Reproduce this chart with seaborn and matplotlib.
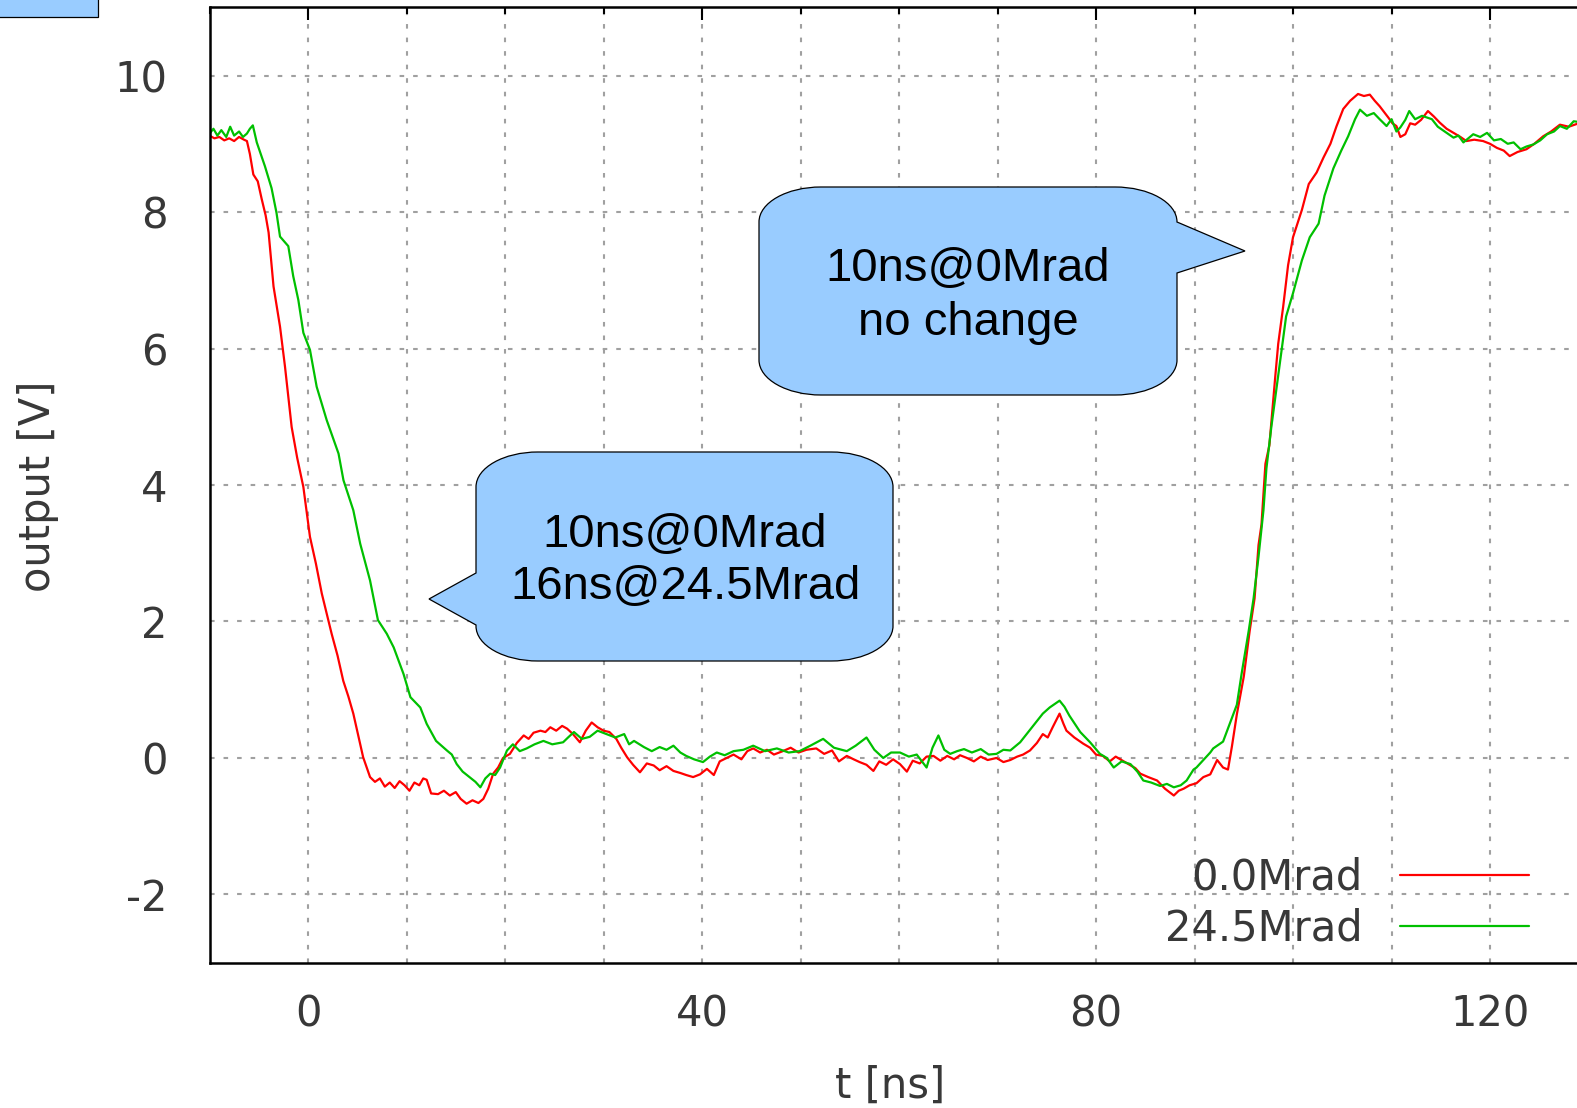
import numpy as np
import pandas as pd
import matplotlib
matplotlib.use("Agg")
import matplotlib.pyplot as plt
import seaborn as sns
from matplotlib.path import Path
from matplotlib.patches import PathPatch, Rectangle

# ---------------- data ----------------
t_red = [-10, -9.5, -9, -8.5, -8, -7.5, -7, -6.5, -6.2, -5.9, -5.55, -5.1, -4.7, -4.3, -4.0, -3.5,
         -2.84, -2.34, -1.66, -1.1, -0.47, 0.2, 0.8, 1.4, 2.4, 3.0, 3.58, 4.1, 4.6, 5.1, 5.6, 6.3,
         6.8, 7.3, 7.8, 8.3, 8.8, 9.3, 9.8, 10.3, 10.8, 11.3, 11.7, 12.05, 12.5, 13.2, 13.8, 14.4,
         15.0, 15.5, 16.1, 16.7, 17.3, 17.8, 18.3, 18.8, 19.3, 19.8, 20.5, 21.2, 21.9, 22.4, 22.9,
         23.6, 24.1, 24.6, 25.2, 25.8, 26.3, 26.9, 27.6, 28.2, 28.8, 29.4, 30.0, 30.6, 31.3, 31.8,
         32.4, 33.0, 33.7, 34.4, 35.1, 35.7, 36.4, 37.1, 37.8, 38.4, 39.1, 39.8, 40.5, 41.2, 41.8,
         42.5, 43.2, 44.0, 44.6, 45.2, 45.9, 46.6, 47.3, 48.2, 49.0, 49.8, 50.6, 51.6, 52.4, 53.2,
         53.9, 54.7, 55.4, 56.0, 56.7, 57.4, 58.0, 58.7, 59.4, 60.1, 60.8, 61.4, 62.1, 62.8, 63.5,
         64.2, 64.9, 65.6, 66.2, 66.9, 67.6, 68.3, 69.0, 69.9, 70.6, 71.3, 72.0, 72.6, 73.3, 74.0,
         74.6, 75.1, 75.6, 76.3, 76.7, 77.0, 77.8, 78.7, 79.4, 80.0, 80.7, 81.4, 82.0, 82.7, 83.4,
         84.0, 84.5, 85.3, 86.2, 87.0, 87.9, 88.4, 88.9, 89.5, 90.2, 90.9, 91.6, 92.3, 92.9, 93.4,
         93.8, 94.3, 95.0, 95.6, 96.1, 96.5, 96.8, 97.2, 97.6, 98.2, 98.5, 99.0, 99.5, 100.0,
         100.9, 101.6, 102.4, 103.1, 103.8, 104.4, 105.1, 105.8, 106.6, 107.2, 107.8, 108.3,
         108.8, 109.7, 110.1, 110.5, 110.9, 111.4, 111.9, 112.4, 113.0, 113.7, 114.3, 114.9,
         115.6, 116.3, 117.0, 117.6, 118.4, 119.3, 120.0, 120.7, 121.4, 122.0, 122.8, 123.7,
         124.5, 125.4, 126.2, 127.1, 128.0, 129.0, 130.0]
v_red = [9.12, 9.08, 9.10, 9.05, 9.08, 9.04, 9.10, 9.06, 9.04, 8.85, 8.55, 8.45, 8.19, 7.95, 7.70, 6.91,
         6.32, 5.74, 4.85, 4.40, 3.97, 3.24, 2.85, 2.41, 1.82, 1.50, 1.13, 0.90, 0.65, 0.33, 0.01, -0.28,
         -0.35, -0.30, -0.42, -0.36, -0.44, -0.34, -0.40, -0.48, -0.36, -0.40, -0.30, -0.32, -0.52, -0.53, -0.48, -0.55,
         -0.50, -0.60, -0.67, -0.62, -0.66, -0.60, -0.45, -0.23, -0.14, 0.00, 0.06, 0.22, 0.33, 0.28, 0.37,
         0.40, 0.38, 0.45, 0.40, 0.47, 0.43, 0.35, 0.23, 0.40, 0.52, 0.45, 0.40, 0.38, 0.28, 0.15,
         0.01, -0.10, -0.21, -0.08, -0.11, -0.18, -0.12, -0.19, -0.22, -0.25, -0.28, -0.24, -0.16, -0.25, -0.05,
         0.00, 0.05, -0.02, 0.10, 0.14, 0.08, 0.12, 0.05, 0.10, 0.15, 0.08, 0.12, 0.14, 0.06, 0.11,
         -0.05, 0.03, -0.02, -0.06, -0.10, -0.19, -0.05, -0.10, -0.02, -0.09, -0.20, -0.04, -0.08, 0.02, 0.03,
         -0.04, 0.03, -0.02, 0.04, 0.00, -0.05, 0.02, -0.03, 0.00, -0.06, -0.03, 0.02, 0.05, 0.11, 0.22,
         0.35, 0.30, 0.45, 0.65, 0.50, 0.40, 0.30, 0.21, 0.15, 0.05, 0.03, -0.05, 0.02, -0.04, -0.10,
         -0.15, -0.23, -0.28, -0.33, -0.45, -0.55, -0.48, -0.45, -0.40, -0.37, -0.28, -0.24, -0.03, -0.14, -0.17,
         0.17, 0.64, 1.19, 1.86, 2.34, 3.12, 3.42, 4.31, 4.58, 5.59, 6.07, 6.61, 7.22, 7.63,
         8.03, 8.41, 8.58, 8.80, 9.00, 9.25, 9.51, 9.63, 9.73, 9.70, 9.72, 9.63,
         9.55, 9.38, 9.30, 9.26, 9.10, 9.14, 9.30, 9.28, 9.35, 9.48, 9.40, 9.31,
         9.22, 9.16, 9.10, 9.04, 9.06, 9.04, 9.00, 8.94, 8.90, 8.82, 8.88, 8.92,
         9.00, 9.11, 9.18, 9.28, 9.25, 9.30, 9.28]

t_green = [-10, -9.6, -9.2, -8.8, -8.3, -7.9, -7.5, -7.0, -6.6, -6.2, -5.9, -5.6, -5.2, -4.8, -4.37, -3.7,
           -3.2, -2.84, -2.0, -1.5, -0.98, -0.47, 0.2, 0.88, 1.9, 3.1, 3.6, 4.6, 5.3, 6.3, 7.1, 8.0,
           8.7, 9.7, 10.4, 11.4, 12.05, 13.0, 14.1, 14.6, 15.1, 15.7, 16.4, 17.0, 17.5, 18.0, 18.5,
           19.0, 19.5, 20.2, 20.8, 21.5, 22.2, 23.0, 23.9, 24.8, 25.9, 26.4, 27.0, 27.8, 28.6, 29.4,
           30.3, 31.2, 32.1, 32.6, 33.1, 34.1, 34.9, 35.7, 36.4, 37.1, 37.8, 38.4, 39.2, 40.1, 40.8,
           41.5, 42.3, 43.2, 44.2, 45.2, 46.4, 47.6, 48.8, 49.9, 51.0, 52.3, 53.4, 54.7, 55.6, 56.7,
           57.5, 58.4, 59.2, 60.1, 61.0, 61.8, 62.8, 63.4, 64.0, 64.6, 65.2, 65.9, 66.6, 67.4, 68.3,
           69.1, 69.9, 70.6, 71.3, 72.3, 73.4, 74.6, 75.3, 76.3, 76.8, 77.3, 78.4, 79.4, 80.4, 81.1,
           81.8, 82.6, 83.5, 84.2, 84.8, 85.6, 86.5, 87.2, 87.9, 88.6, 89.2, 89.9, 90.2, 90.9, 91.6,
           91.9, 92.9, 93.6, 94.3, 94.8, 95.5, 96.0, 96.5, 97.0, 97.3, 97.8, 98.3, 98.8, 99.3, 100.0,
           100.9, 101.7, 102.6, 103.2, 104.1, 104.9, 105.6, 106.3, 106.8, 107.5, 108.2, 108.8, 109.5,
           110.0, 110.5, 110.9, 111.4, 111.8, 112.4, 113.1, 114.1, 114.7, 115.3, 116.3, 116.8, 117.3,
           118.3, 119.0, 119.7, 120.4, 121.1, 121.8, 122.4, 123.1, 123.7, 124.4, 125.1, 125.8, 126.5,
           127.1, 127.8, 128.5, 130.0]
v_green = [9.15, 9.22, 9.12, 9.20, 9.10, 9.25, 9.12, 9.18, 9.10, 9.15, 9.22, 9.27, 9.02, 8.85, 8.67, 8.35,
           7.99, 7.64, 7.50, 7.06, 6.71, 6.23, 5.98, 5.44, 4.95, 4.46, 4.07, 3.63, 3.14, 2.60, 2.02, 1.82,
           1.62, 1.23, 0.89, 0.74, 0.50, 0.25, 0.11, 0.05, -0.09, -0.20, -0.28, -0.35, -0.43, -0.30, -0.23,
           -0.25, -0.14, 0.11, 0.20, 0.10, 0.14, 0.20, 0.25, 0.20, 0.23, 0.30, 0.38, 0.28, 0.31, 0.40,
           0.35, 0.30, 0.35, 0.20, 0.25, 0.16, 0.10, 0.16, 0.12, 0.18, 0.08, 0.03, -0.02, -0.06, 0.02,
           0.08, 0.04, 0.10, 0.12, 0.18, 0.10, 0.14, 0.08, 0.10, 0.18, 0.28, 0.15, 0.10, 0.18, 0.30,
           0.12, 0.00, 0.08, 0.08, 0.02, 0.05, -0.14, 0.15, 0.33, 0.12, 0.06, 0.10, 0.13, 0.08, 0.13,
           0.05, 0.06, 0.12, 0.11, 0.23, 0.43, 0.65, 0.74, 0.84, 0.75, 0.62, 0.38, 0.23, 0.06, 0.00,
           -0.14, -0.05, -0.09, -0.20, -0.33, -0.36, -0.41, -0.38, -0.43, -0.40, -0.33, -0.17, -0.14, -0.03, 0.08,
           0.14, 0.24, 0.51, 0.78, 1.25, 1.86, 2.34, 2.95, 3.63, 4.24, 4.85, 5.39, 5.93, 6.47, 6.81,
           7.29, 7.63, 7.83, 8.24, 8.64, 8.90, 9.11, 9.36, 9.50, 9.41, 9.45, 9.36, 9.26,
           9.36, 9.18, 9.24, 9.35, 9.48, 9.36, 9.41, 9.36, 9.25, 9.19, 9.09, 9.12, 9.02,
           9.14, 9.10, 9.16, 9.05, 9.07, 9.00, 9.02, 8.92, 8.96, 8.99, 9.05, 9.14, 9.18,
           9.26, 9.22, 9.33, 9.30]

series_labels = ["0.0Mrad", "24.5Mrad"]
series_colors = ["#ff0000", "#00c000"]
x_ticks = [0, 40, 80, 120]
y_ticks = [-2, 0, 2, 4, 6, 8, 10]
x_label = "t [ns]"
y_label = "output [V]"
callout_texts = ["10ns@0Mrad\nno change", "10ns@0Mrad\n16ns@24.5Mrad"]

# ---------------- figure ----------------
W, H = 1577, 1108
sns.set_style("white")
plt.rcParams["font.family"] = ["DejaVu Sans"]
plt.rcParams["axes.unicode_minus"] = False

fig = plt.figure(figsize=(W / 100, H / 100), dpi=100)
ax_left, ax_right, ax_top, ax_bottom = 209.5, 1588.5, 7.3, 962.7
ax = fig.add_axes([ax_left / W, 1 - ax_bottom / H, (ax_right - ax_left) / W, (ax_bottom - ax_top) / H])

df = pd.concat([
    pd.DataFrame({"t": t_red, "v": v_red, "s": series_labels[0]}),
    pd.DataFrame({"t": t_green, "v": v_green, "s": series_labels[1]}),
])
sns.lineplot(data=df, x="t", y="v", hue="s", palette=series_colors, ax=ax,
             estimator=None, sort=False, linewidth=1.6, legend=True)

ax.set_xlim(-10, 130)
ax.set_ylim(-3, 11)
ax.set_xticks(x_ticks)
ax.set_xticks(np.arange(-10, 131, 10), minor=True)
ax.set_yticks(y_ticks)

txt_color = "#383838"
ax.tick_params(axis="both", which="both", direction="in", top=True, right=True,
               colors="black", labelcolor=txt_color, labelsize=30, width=1.5)
ax.tick_params(axis="both", which="major", length=9)
ax.tick_params(axis="both", which="minor", length=5)
ax.tick_params(axis="x", pad=22)
ax.tick_params(axis="y", pad=30)
for sp in ax.spines.values():
    sp.set_color("black")
    sp.set_linewidth(1.8)

grid_kw = dict(color="#a0a0a0", linewidth=1.5, linestyle=(0, (2.2, 4.3)))
ax.grid(True, which="major", axis="both", **grid_kw)
ax.grid(True, which="minor", axis="x", **grid_kw)
ax.set_axisbelow(True)

ax.set_xlabel(x_label, fontsize=30, color=txt_color)
ax.set_ylabel(y_label, fontsize=30, color=txt_color)
ax.xaxis.set_label_coords(890 / W, 1 - 1086 / H, transform=fig.transFigure)
ax.yaxis.set_label_coords(38 / W, 1 - 486 / H, transform=fig.transFigure)
ax.xaxis.label.set_va("center")
ax.yaxis.label.set_va("center")

handles, labels = ax.get_legend_handles_labels()
leg = ax.legend(handles, labels, loc="center", bbox_to_anchor=(1347 / W, 1 - 903 / H),
                bbox_transform=fig.transFigure, frameon=False, markerfirst=False,
                fontsize=30, handlelength=3.1, handletextpad=0.9, labelspacing=0.2,
                borderpad=0, borderaxespad=0)
for txt in leg.get_texts():
    txt.set_color(txt_color)
    txt.set_ha("right")

# ---------------- callouts ----------------
def P(x, y):
    return (x / W, 1 - y / H)

def callout(x0, y0, x1, y1, rx, ry, side, b0, b1, tip):
    k = 0.5523
    v, c = [], []
    def mv(x, y): v.append(P(x, y)); c.append(Path.MOVETO)
    def ln(x, y): v.append(P(x, y)); c.append(Path.LINETO)
    def cu(a, b, d):
        for q in (a, b, d):
            v.append(P(*q)); c.append(Path.CURVE4)
    mv(x0 + rx, y0)
    ln(x1 - rx, y0)
    cu((x1 - rx + k * rx, y0), (x1, y0 + ry - k * ry), (x1, y0 + ry))
    if side == "right":
        ln(x1, b0); ln(*tip); ln(x1, b1)
    ln(x1, y1 - ry)
    cu((x1, y1 - ry + k * ry), (x1 - rx + k * rx, y1), (x1 - rx, y1))
    ln(x0 + rx, y1)
    cu((x0 + rx - k * rx, y1), (x0, y1 - ry + k * ry), (x0, y1 - ry))
    if side == "left":
        ln(x0, b1); ln(*tip); ln(x0, b0)
    ln(x0, y0 + ry)
    cu((x0, y0 + ry - k * ry), (x0 + rx - k * rx, y0), (x0 + rx, y0))
    v.append(P(x0 + rx, y0)); c.append(Path.CLOSEPOLY)
    patch = PathPatch(Path(v, c), facecolor="#99ccff", edgecolor="black", linewidth=0.9,
                      transform=fig.transFigure, zorder=5)
    fig.add_artist(patch)

callout(759, 187, 1177, 395, 62, 35, "right", 222, 273, (1245, 251))
callout(476, 452, 893, 661, 62, 35, "left", 573, 625, (429, 599))

fig.text(*P(968, 296), callout_texts[0], ha="center", va="center", fontsize=34,
         family="Liberation Sans", color="black", zorder=6, linespacing=1.27)
fig.text(*P(685, 561), callout_texts[1], ha="center", va="center", fontsize=34,
         family="Liberation Sans", color="black", zorder=6, linespacing=1.26)

# small blue box at the top-left corner (cropped)
fig.add_artist(Rectangle(P(-5, 17), (98 + 5) / W, (17 + 5) / H, transform=fig.transFigure,
                         facecolor="#99ccff", edgecolor="black", linewidth=0.9, zorder=5))

fig.savefig("out.png", dpi=100)
